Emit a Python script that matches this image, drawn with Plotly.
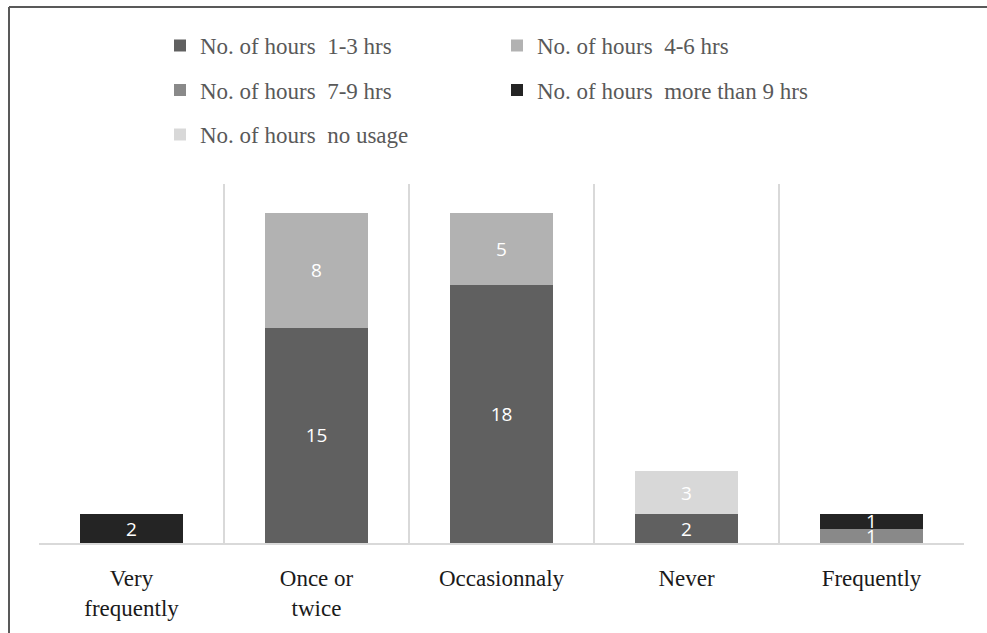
import plotly.graph_objects as go

# Usage frequency categories (x axis)
categories = ["Very<br>frequently", "Once or<br>twice", "Occasionnaly", "Never", "Frequently"]

# Number of respondents per hours-of-usage band, per category
hours_1_3 = [0, 15, 18, 2, 0]
hours_4_6 = [0, 8, 5, 0, 0]
hours_7_9 = [0, 0, 0, 0, 1]
hours_9_plus = [2, 0, 0, 0, 1]
no_usage = [0, 0, 0, 3, 0]

series = [
    ("No. of hours  1-3 hrs", hours_1_3, "#606060", "legend"),
    ("No. of hours  4-6 hrs", hours_4_6, "#b2b2b2", "legend"),
    ("No. of hours  7-9 hrs", hours_7_9, "#898989", "legend2"),
    ("No. of hours  more than 9 hrs", hours_9_plus, "#242424", "legend2"),
    ("No. of hours  no usage", no_usage, "#d8d8d8", "legend3"),
]

fig = go.Figure()
for name, vals, color, leg in series:
    fig.add_trace(go.Bar(
        name=name,
        x=categories,
        y=vals,
        marker=dict(color=color, line=dict(width=0)),
        text=[str(v) if v else "" for v in vals],
        textposition="inside",
        insidetextanchor="middle",
        textangle=0,
        textfont=dict(family="Open Sans, sans-serif", size=19, color="white"),
        legend=leg,
        hoverinfo="skip",
    ))

legend_font = dict(family="Liberation Serif", size=23, color="#595959")
legend_common = dict(
    orientation="h", xanchor="left", yanchor="middle",
    entrywidth=292, entrywidthmode="pixels",
    font=legend_font, bgcolor="rgba(0,0,0,0)", itemclick=False,
    traceorder="normal",
)

plot_l, plot_r, plot_t, plot_b = 39, 23, 184, 86
pw = 987 - plot_l - plot_r
ph = 633 - plot_t - plot_b


def px_to_paper_x(px):
    return (px - plot_l) / pw


def px_to_paper_y(py):
    return (633 - plot_b - py) / ph


fig.update_layout(
    width=987, height=633,
    margin=dict(l=plot_l, r=plot_r, t=plot_t, b=plot_b),
    barmode="stack",
    bargap=0.443,
    plot_bgcolor="white",
    paper_bgcolor="white",
    uniformtext=dict(minsize=19, mode="show"),
    legend=dict(x=px_to_paper_x(160), y=px_to_paper_y(44), **legend_common),
    legend2=dict(x=px_to_paper_x(160), y=px_to_paper_y(89), **legend_common),
    legend3=dict(x=px_to_paper_x(160), y=px_to_paper_y(134), **legend_common),
    xaxis=dict(
        tickson="boundaries",
        showgrid=True, gridcolor="#d9d9d9", gridwidth=1.5,
        showline=True, linecolor="#d9d9d9", linewidth=1.5,
        ticks="", ticklabelstandoff=14,
        tickfont=dict(family="Liberation Serif", size=23, color="#1a1a1a"),
        fixedrange=True,
    ),
    yaxis=dict(
        range=[0, 25], visible=False, showgrid=False, fixedrange=True,
    ),
)

# Outer chart frame (top and left edges)
frame = dict(color="#595959", width=2)
fig.add_shape(type="line", xref="paper", yref="paper",
              x0=px_to_paper_x(9), x1=px_to_paper_x(995),
              y0=px_to_paper_y(5), y1=px_to_paper_y(5), line=frame)
fig.add_shape(type="line", xref="paper", yref="paper",
              x0=px_to_paper_x(9), x1=px_to_paper_x(9),
              y0=px_to_paper_y(5), y1=px_to_paper_y(640), line=frame)

fig.write_html("out.html")
